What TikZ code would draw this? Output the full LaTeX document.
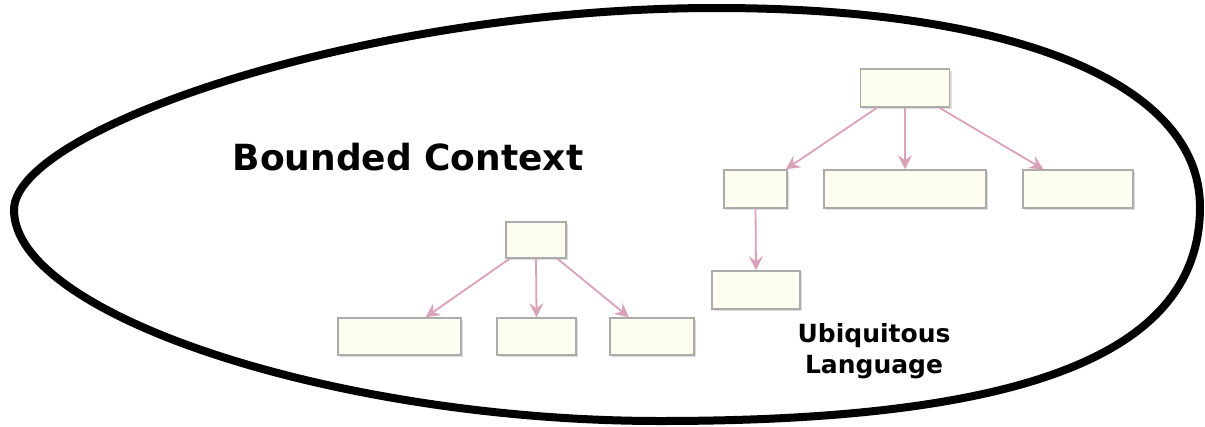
\documentclass[tikz,border=0pt]{standalone}
\usepackage{fontspec}
\setmainfont{DejaVu Sans}
\usetikzlibrary{calc,arrows.meta,shadows}
\definecolor{boxfill}{HTML}{FEFEF0}
\definecolor{boxline}{HTML}{ABABAB}
\definecolor{arrcol}{HTML}{D9A2B9}
\tikzset{
  umlbox/.style={draw=boxline, line width=1.5pt, fill=boxfill, inner sep=0pt,
    drop shadow={shadow xshift=2pt, shadow yshift=-2pt, fill=black!30, opacity=0.45}},
  arr/.style={draw=arrcol, line width=1.8pt, -{Stealth[length=14pt,width=14pt,inset=5pt]}},
  boundary/.style={draw=black, line width=8pt, line join=round}
}
\begin{document}
\begin{tikzpicture}[x=1pt,y=-1pt]
\useasboundingbox (0,0) rectangle (1205,426);
% bounded context boundary
\coordinate (eL) at (14,210);
\coordinate (eT) at (716,8);
\coordinate (eR) at (1200,207);
\coordinate (eB) at (660,421);
\draw[boundary] (eL) .. controls (14,129) and (365,8) .. (eT)
  .. controls (1017,8) and (1200,84) .. (eR)
  .. controls (1200,353) and (1028,421) .. (eB)
  .. controls (337,421) and (14,315) .. (eL) -- cycle;
% labels
\node[anchor=base, inner sep=0pt, font=\bfseries\fontsize{36}{43}\selectfont] (bc) at (408,170) {Bounded Context};
\node[align=center, inner sep=0pt, font=\bfseries\fontsize{25}{31}\selectfont] (ul) at (874,351) {Ubiquitous\\Language};
% left tree
\node[umlbox, minimum width=60pt, minimum height=36pt] (L0) at (536,240) {};
\node[umlbox, minimum width=123pt, minimum height=37pt] (L1) at (399.5,336.5) {};
\node[umlbox, minimum width=79pt, minimum height=37pt] (L2) at (536.5,336.5) {};
\node[umlbox, minimum width=84pt, minimum height=37pt] (L3) at (652,336.5) {};
% right tree
\node[umlbox, minimum width=89pt, minimum height=38pt] (R0) at (905,88) {};
\node[umlbox, minimum width=63pt, minimum height=38pt] (R1) at (755.5,189) {};
\node[umlbox, minimum width=162pt, minimum height=38pt] (R2) at (905,189) {};
\node[umlbox, minimum width=110pt, minimum height=38pt] (R3) at (1078,189) {};
\node[umlbox, minimum width=88pt, minimum height=38pt] (R4) at (756,290) {};
% connectors
\draw[arr] ($(L0.south west)!0.07!(L0.south east)$) -- ($(L1.north west)!0.71!(L1.north east)$);
\draw[arr] (L0.south) -- (L2.north);
\draw[arr] ($(L0.south west)!0.85!(L0.south east)$) -- ($(L3.north west)!0.23!(L3.north east)$);
\draw[arr] ($(R0.south west)!0.19!(R0.south east)$) -- ($(R1.north west)!0.97!(R1.north east)$);
\draw[arr] (R0.south) -- (R2.north);
\draw[arr] ($(R0.south west)!0.88!(R0.south east)$) -- ($(R3.north west)!0.19!(R3.north east)$);
\draw[arr] (R1.south) -- (R4.north);
\end{tikzpicture}
\end{document}
